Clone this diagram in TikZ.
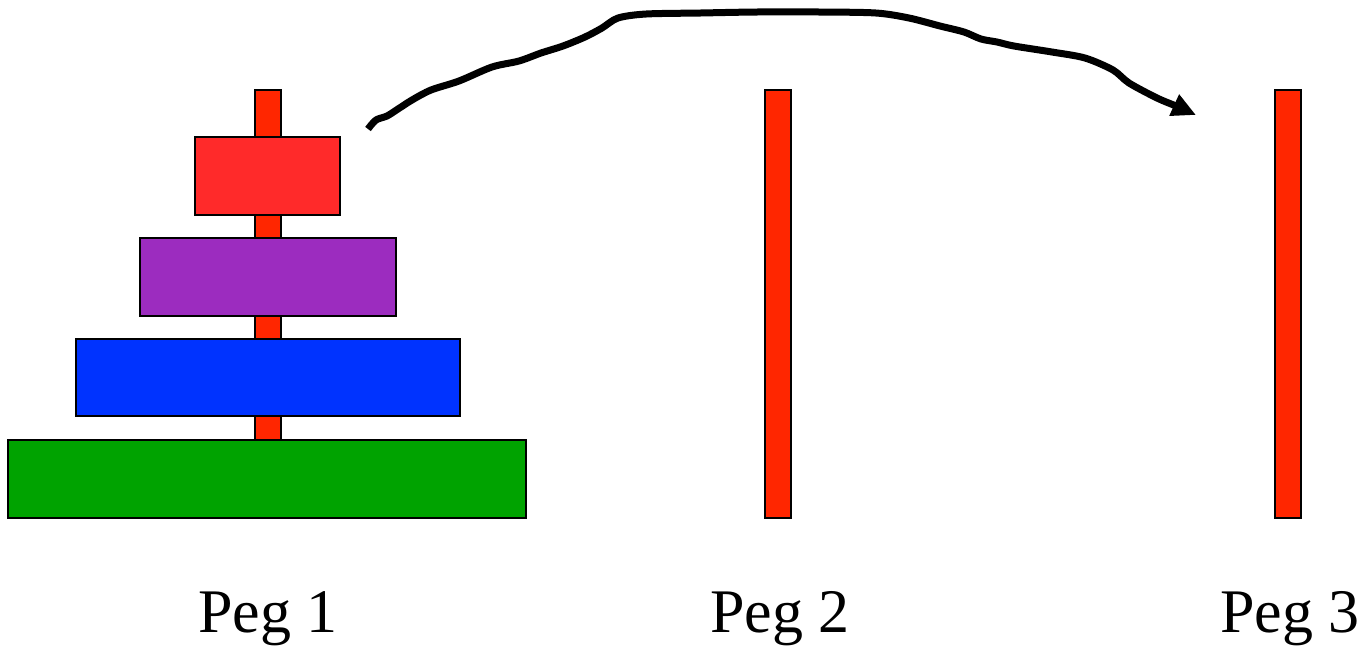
\documentclass[tikz,border=0pt]{standalone}
\usepackage{fontspec}
\setmainfont{Liberation Serif}
\usetikzlibrary{arrows.meta}
\definecolor{pegred}{HTML}{FF2600}
\definecolor{diskred}{HTML}{FF2A2A}
\definecolor{diskpurple}{HTML}{9C2CBF}
\definecolor{diskblue}{HTML}{0033FF}
\definecolor{diskgreen}{HTML}{00A300}
\tikzset{
  peg/.style={draw=black, line width=1pt, fill=pegred},
  disk/.style={draw=black, line width=1pt},
  peglabel/.style={font=\fontsize{31}{36}\selectfont, anchor=base, inner sep=0pt},
  move/.style={line width=3.5pt, line join=round, -{Triangle[length=12pt, width=11pt]}}
}
\begin{document}
\begin{tikzpicture}[x=0.5pt, y=-0.5pt]
\useasboundingbox (0,0) rectangle (1366,645);
% pegs
\draw[peg] (255,90) rectangle (281,518);
\draw[peg] (765,90) rectangle (791,518);
\draw[peg] (1275,90) rectangle (1301,518);
% disks
\draw[disk, fill=diskred] (195,137) rectangle (340,215);
\draw[disk, fill=diskpurple] (140,238) rectangle (396,316);
\draw[disk, fill=diskblue] (76,339) rectangle (460,416);
\draw[disk, fill=diskgreen] (8,440) rectangle (526,518);
% labels
\node[peglabel] (l1) at (268,632) {Peg 1};
\node[peglabel] (l2) at (780,632) {Peg 2};
\node[peglabel] (l3) at (1290,632) {Peg 3};
% move arrow
\coordinate (from) at (368,129);
\coordinate (to) at (1196,115);
\draw[move] plot[smooth, tension=0.5] coordinates {
  (from) (376,120) (387,116) (398,109) (412,100) (431,90)
  (459,81) (492,67) (519,61) (541,53) (563,46) (585,37)
  (602,28) (618,18) (646,14) (700,13) (756,12) (820,12)
  (876,13) (909,18) (940,26) (964,32) (981,39) (997,42)
  (1014,46) (1052,52) (1085,58) (1113,70) (1129,83) (1157,98)
  (1176,106) (to)};
\end{tikzpicture}
\end{document}
